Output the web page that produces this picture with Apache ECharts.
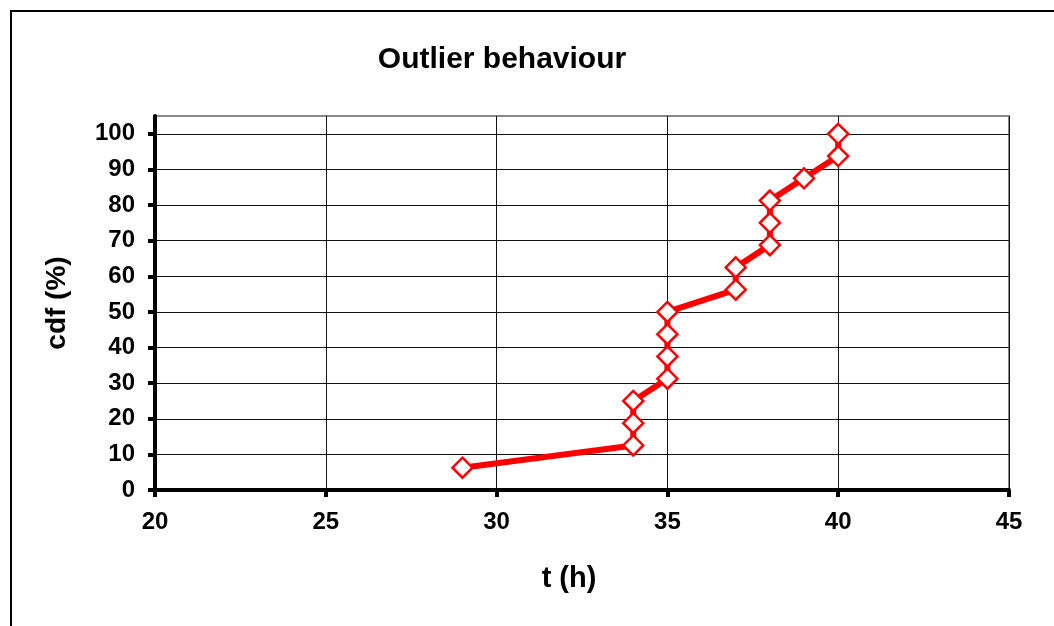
<!DOCTYPE html>
<html><head><meta charset="utf-8">
<script src="https://cdn.jsdelivr.net/npm/echarts@6/dist/echarts.min.js"></script>
<style>html,body{margin:0;padding:0;background:#fff}#c{width:1054px;height:626px}</style>
</head><body><div id="c"></div>
<script>
const tHours = [29, 34, 34, 34, 35, 35, 35, 35, 37, 37, 38, 38, 38, 39, 40, 40];
const cdfPct = [6.25, 12.5, 18.75, 25, 31.25, 37.5, 43.75, 50, 56.25, 62.5, 68.75, 75, 81.25, 87.5, 93.75, 100];
const xTicks = [20, 25, 30, 35, 40, 45];
const yTicks = [0, 10, 20, 30, 40, 50, 60, 70, 80, 90, 100];

const chart = echarts.init(document.getElementById('c'));
const font = 'Liberation Sans, Arial, sans-serif';
chart.setOption({
  animation: false,
  backgroundColor: '#fff',
  graphic: [{
    type: 'rect', shape: {x: 11, y: 11, width: 1100, height: 700},
    style: {fill: 'none', stroke: '#000', lineWidth: 2}, silent: true
  }],
  title: {
    text: 'Outlier behaviour', left: 497, top: 40, textAlign: 'center',
    textStyle: {fontFamily: font, fontSize: 30, fontWeight: 'bold', color: '#000'}
  },
  grid: {left: 155, right: 45, top: 116, bottom: 136, show: true, borderColor: '#888', borderWidth: 2, backgroundColor: 'transparent'},
  xAxis: {
    type: 'value', min: xTicks[0], max: xTicks[xTicks.length - 1], interval: 5,
    name: 't (h)', nameLocation: 'middle', nameGap: 74,
    nameTextStyle: {fontFamily: font, fontSize: 29, fontWeight: 'bold', color: '#000', padding: [0, 26, 0, 0]},
    axisLine: {show: true, lineStyle: {color: '#000', width: 4}},
    axisTick: {show: true, inside: false, length: 7, lineStyle: {color: '#000', width: 4}},
    axisLabel: {margin: 20, fontFamily: font, fontSize: 24, fontWeight: 'bold', color: '#000',
      formatter: v => xTicks.includes(v) ? String(v) : ''},
    splitLine: {show: true, lineStyle: {color: '#111', width: 1}}
  },
  yAxis: {
    type: 'value', min: 0, max: 105, interval: 10,
    name: 'cdf (%)', nameLocation: 'middle', nameGap: 84, nameRotate: 90,
    nameTextStyle: {fontFamily: font, fontSize: 28, fontWeight: 'bold', color: '#000', padding: [0, 0, 0, 0]},
    axisLine: {show: true, lineStyle: {color: '#000', width: 4}},
    axisTick: {show: true, inside: false, length: 7, lineStyle: {color: '#000', width: 4}, customValues: yTicks},
    axisLabel: {margin: 20, fontFamily: font, fontSize: 24, fontWeight: 'bold', color: '#000', customValues: yTicks},
    splitLine: {show: true, lineStyle: {color: '#111', width: 1}}
  },
  series: [{
    type: 'line',
    data: tHours.map((t, i) => [t, cdfPct[i]]),
    symbol: 'diamond', symbolSize: 20,
    lineStyle: {color: '#ff0000', width: 6},
    itemStyle: {color: '#fff', borderColor: '#ff0000', borderWidth: 2.5},
    z: 5
  }]
});
</script></body></html>
